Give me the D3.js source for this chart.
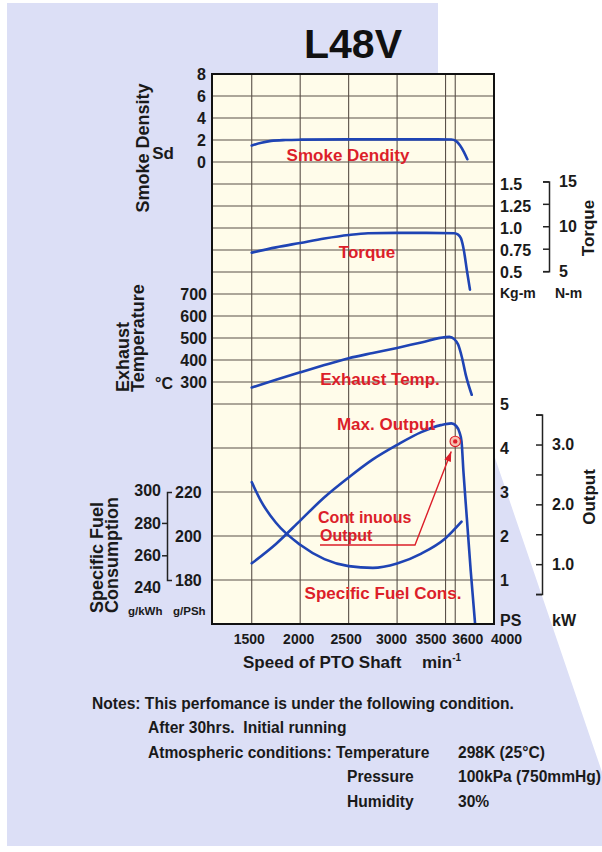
<!DOCTYPE html>
<html><head><meta charset="utf-8">
<script src="https://cdn.jsdelivr.net/npm/d3@7/dist/d3.min.js"></script>
<style>
html,body{margin:0;padding:0;background:#fff;}
svg{display:block;font-family:"Liberation Sans",Arial,Helvetica,sans-serif;font-weight:bold;}
text{white-space:pre;}
</style>
</head><body>
<svg id="c" width="602" height="852"></svg>
<script>
// ---------------- data ----------------
const title = "L48V";
const rpmTicks = [1500, 2000, 2500, 3000, 3500, 3600, 4000];
const rpmGrid = [1500, 2000, 2500, 3000, 3500, 3600];
const smokeTicks = [8, 6, 4, 2, 0];
const torqueKgmTicks = [1.5, 1.25, 1.0, 0.75, 0.5];
const torqueKgmLabels = ["1.5", "1.25", "1.0", "0.75", "0.5"];
const torqueNmTicks = [15, 10, 5];
const torqueNmMinor = [15, 12.5, 10, 7.5, 5];
const exhaustTicks = [700, 600, 500, 400, 300];
const psTicks = [5, 4, 3, 2, 1];
const kwTicks = [3.0, 2.0, 1.0];
const kwMinor = [3.5, 3.0, 2.5, 2.0, 1.5, 1.0, 0.5];
const sfcKwhTicks = [300, 280, 260, 240];
const sfcKwhMinor = [280, 260];
const sfcPshTicks = [220, 200, 180];

// Smoke density (Sd)
const smokeRpm = [1500, 1600, 1700, 1850, 2000, 2500, 3000, 3300, 3560, 3610, 3650, 3690, 3725];
const smokeVal = [1.5, 1.75, 1.92, 2.0, 2.03, 2.06, 2.06, 2.06, 2.05, 1.9, 1.5, 0.9, 0.25];
// Torque (kg-m)
const torqueRpm = [1500, 1750, 2000, 2250, 2500, 2700, 3000, 3300, 3590, 3630, 3660, 3690, 3720, 3752];
const torqueVal = [0.72, 0.78, 0.83, 0.88, 0.92, 0.94, 0.945, 0.945, 0.94, 0.925, 0.88, 0.74, 0.52, 0.3];
// Exhaust temperature (°C)
const exhaustRpm = [1500, 1750, 2000, 2250, 2500, 2750, 3000, 3250, 3500, 3540, 3590, 3630, 3670, 3710, 3770];
const exhaustVal = [275, 310, 344, 377, 408, 432, 455, 480, 504, 505, 495, 470, 410, 330, 242];
// Max output (PS)
const outputRpm = [1500, 1750, 2000, 2250, 2500, 2750, 3000, 3250, 3450, 3560, 3610, 3645, 3665, 3685, 3720, 3760, 3805];
const outputVal = [1.38, 1.82, 2.35, 2.88, 3.33, 3.74, 4.07, 4.36, 4.52, 4.56, 4.5, 4.35, 4.15, 3.45, 2.4, 1.2, 0];
// Specific fuel consumption (g/PSh)
const sfcRpm = [1500, 1600, 1750, 2000, 2250, 2500, 2750, 3000, 3250, 3500, 3665];
const sfcVal = [224.5, 215.5, 206, 196, 189.5, 186.3, 185.5, 187.5, 192, 199, 206.5];
// Continuous output point
const contRpm = 3600;
const contPS = 4.15;

const notes = [
  "Notes: This perfomance is under the following condition.",
  "After 30hrs.  Initial running",
  "Atmospheric conditions: Temperature",
  "Pressure",
  "Humidity"
];
const noteValues = ["298K (25°C)", "100kPa (750mmHg)", "30%"];

// ---------------- layout ----------------
const KW_TO_PS = 1.35962, NM_PER_KGM = 9.80665, PSH_PER_KWH = 0.735499;
const L = 212, R = 494, T = 74, rowH = 22, nRows = 25, B = T + rowH * nRows;
const rowY = k => T + k * rowH;
const BLUE = "#1f44b4", RED = "#dc1f2a", GRID = "#5a5048";

const x = d3.scaleLinear().domain([1090, 4000]).range([L, R]);
const smokeY = d3.scaleLinear().domain([0, 8]).range([rowY(4), rowY(0)]);
const torqueY = d3.scaleLinear().domain([0.5, 1.5]).range([rowY(9), rowY(5)]);
const exhY = d3.scaleLinear().domain([300, 700]).range([rowY(14), rowY(10)]);
const psY = d3.scaleLinear().domain([0, 5]).range([rowY(25), rowY(15)]);
const sfcY = d3.scaleLinear().domain([160, 260]).range([rowY(25), rowY(15)]);
const nmY = d3.scaleLinear().domain([5, 15]).range([torqueY(5 / NM_PER_KGM), torqueY(15 / NM_PER_KGM)]);
const kwY = d3.scaleLinear().domain([0.5, 3.5]).range([psY(0.5 * KW_TO_PS), psY(3.5 * KW_TO_PS)]);
const kwLabY = d3.scaleLinear().domain([0, 5 / KW_TO_PS]).range([psY(0), psY(5)]);
const kwhY = d3.scaleLinear().domain([240, 300]).range([sfcY(240 * PSH_PER_KWH), sfcY(300 * PSH_PER_KWH)]);
const pshBr = d3.scaleLinear().domain([180, 220]).range([sfcY(180), sfcY(220)]);

const svg = d3.select("#c");

// background
svg.append("rect").attr("width", 602).attr("height", 852).attr("fill", "#fff");
svg.append("path")
  .attr("d", `M7,3 H438 V${T} H${R} V455 L602,772 V846 H7 Z`)
  .attr("fill", "#dcdff6");

// title
svg.append("text").attr("x", 353).attr("y", 58).attr("text-anchor", "middle")
  .attr("font-size", 41).attr("fill", "#111").text(title);

// plot area
svg.append("rect").attr("x", L).attr("y", T).attr("width", R - L).attr("height", B - T).attr("fill", "#fffcea");

const gridRows = d3.range(1, 16).concat(d3.range(17, nRows, 2));
svg.append("g").selectAll("line").data(gridRows).join("line")
  .attr("x1", L).attr("x2", R).attr("y1", d => rowY(d)).attr("y2", d => rowY(d))
  .attr("stroke", GRID).attr("stroke-width", 1.1);
svg.append("g").selectAll("line").data(rpmGrid).join("line")
  .attr("x1", d => x(d)).attr("x2", d => x(d)).attr("y1", T).attr("y2", B)
  .attr("stroke", GRID).attr("stroke-width", 1.1);

// curves
svg.append("clipPath").attr("id", "clip").append("rect")
  .attr("x", L).attr("y", T).attr("width", R - L).attr("height", B - T);
const curves = svg.append("g").attr("clip-path", "url(#clip)");
function drawCurve(rpms, vals, yScale) {
  const pts = rpms.map((r, i) => [x(r), yScale(vals[i])]);
  curves.append("path").attr("d", d3.line().curve(d3.curveMonotoneX)(pts))
    .attr("fill", "none").attr("stroke", BLUE).attr("stroke-width", 2.6)
    .attr("stroke-linecap", "round").attr("stroke-linejoin", "round");
}
drawCurve(smokeRpm, smokeVal, smokeY);
drawCurve(torqueRpm, torqueVal, torqueY);
drawCurve(exhaustRpm, exhaustVal, exhY);
drawCurve(outputRpm, outputVal, psY);
drawCurve(sfcRpm, sfcVal, sfcY);

// border
svg.append("rect").attr("x", L).attr("y", T).attr("width", R - L).attr("height", B - T)
  .attr("fill", "none").attr("stroke", "#111").attr("stroke-width", 2);

// red curve labels
function red(t, xx, yy, anchor, fs) {
  return svg.append("text").attr("x", xx).attr("y", yy).attr("text-anchor", anchor || "middle")
    .attr("font-size", fs || 17).attr("fill", RED).text(t);
}
red("Smoke Dendity", 348, smokeY(0) - 1);
red("Torque", 367, torqueY(0.75) + 8);
red("Exhaust Temp.", 380, exhY(300) + 3);
red("Max. Output", 386, psY(4.5) + 4);
red("Cont inuous", 318, 523, "start", 16);
red("Output", 320, 541, "start", 16);
red("Specific Fuel Cons.", 383, psY(0.6) + 1);

// continuous output marker + arrow
const cx = x(contRpm), cy = psY(contPS);
svg.append("circle").attr("cx", cx).attr("cy", cy).attr("r", 5.2)
  .attr("fill", "#f6c2b0").attr("stroke", RED).attr("stroke-width", 1.1);
svg.append("circle").attr("cx", cx).attr("cy", cy).attr("r", 2.2).attr("fill", RED);
const ux = 320, uy = 545, ex = 415;
const tipX = cx - 4, tipY = cy + 10;
svg.append("path").attr("d", `M${ux},${uy} H${ex} L${tipX},${tipY}`)
  .attr("fill", "none").attr("stroke", RED).attr("stroke-width", 1.4);
{
  const dx = tipX - ex, dy = tipY - uy, len = Math.hypot(dx, dy);
  const ux2 = dx / len, uy2 = dy / len, hl = 10, hw = 3.5;
  const bx = tipX - ux2 * hl, by = tipY - uy2 * hl;
  svg.append("path").attr("d",
    `M${tipX},${tipY} L${bx - uy2 * hw},${by + ux2 * hw} L${bx + uy2 * hw},${by - ux2 * hw} Z`)
    .attr("fill", RED);
}

// ---------------- axes ----------------
function styleAxis(g, fs) {
  g.selectAll("text").attr("font-size", fs).attr("font-family", "Liberation Sans, Arial, sans-serif")
    .attr("font-weight", "bold").attr("fill", "#1a1a1a");
  g.selectAll("path,line").attr("stroke", "#222").attr("stroke-width", 1.5);
  return g;
}
function labelAxis(axis, tx, fs) {
  const g = svg.append("g").attr("transform", `translate(${tx},0)`).call(axis);
  g.select(".domain").remove();
  return styleAxis(g, fs);
}
// left labels
labelAxis(d3.axisLeft(smokeY).tickValues(smokeTicks).tickSize(0).tickPadding(0).tickFormat(d3.format("d")), 206, 16);
labelAxis(d3.axisLeft(exhY).tickValues(exhaustTicks).tickSize(0).tickPadding(0).tickFormat(d3.format("d")), 207, 16);
labelAxis(d3.axisLeft(kwhY).tickValues(sfcKwhTicks).tickSize(0).tickPadding(0).tickFormat(d3.format("d")), 161, 16);
labelAxis(d3.axisRight(pshBr).tickValues(sfcPshTicks).tickSize(0).tickPadding(0).tickFormat(d3.format("d")), 175, 16);
// SFC bracket
styleAxis(svg.append("g").attr("transform", "translate(167,0)")
  .call(d3.axisRight(pshBr).tickValues([]).tickSizeOuter(5)), 16);
{
  const g = svg.append("g").attr("transform", "translate(167,0)")
    .call(d3.axisLeft(kwhY).tickValues(sfcKwhMinor).tickSize(5).tickFormat(""));
  g.select(".domain").remove(); styleAxis(g, 16);
}
// right labels
labelAxis(d3.axisRight(torqueY).tickValues(torqueKgmTicks).tickSize(0).tickPadding(0)
  .tickFormat((d, i) => torqueKgmLabels[i]), 500, 16);
labelAxis(d3.axisRight(nmY).tickValues(torqueNmTicks).tickSize(0).tickPadding(0).tickFormat(d3.format("d")), 559, 16);
styleAxis(svg.append("g").attr("transform", "translate(549,0)")
  .call(d3.axisLeft(nmY).tickValues(torqueNmMinor).tickSize(6).tickSizeOuter(6).tickFormat("")), 16);
labelAxis(d3.axisRight(psY).tickValues(psTicks).tickSize(0).tickPadding(0).tickFormat(d3.format("d")), 500, 16);
labelAxis(d3.axisRight(kwLabY).tickValues(kwTicks).tickSize(0).tickPadding(0).tickFormat(d3.format(".1f")), 552, 16);
styleAxis(svg.append("g").attr("transform", "translate(542,0)")
  .call(d3.axisLeft(kwY).tickValues(kwMinor).tickSize(6).tickSizeOuter(6).tickFormat("")), 16);

// bottom axis
{
  const nudge = [-3, -2, -3, -6, -15, 12, 12];
  const g = svg.append("g").attr("transform", `translate(0,${B})`)
    .call(d3.axisBottom(x).tickValues(rpmTicks).tickSize(0).tickPadding(10).tickFormat(d3.format("d")));
  g.select(".domain").remove();
  styleAxis(g, 14);
  g.selectAll(".tick text").attr("dx", (d, i) => nudge[i]);
}

// ---------------- axis titles & units ----------------
function t(s, xx, yy, fs, anchor, rot) {
  const el = svg.append("text").attr("font-size", fs).attr("fill", "#1a1a1a")
    .attr("text-anchor", anchor || "start").text(s);
  if (rot) el.attr("transform", `translate(${xx},${yy}) rotate(-90)`);
  else el.attr("x", xx).attr("y", yy);
  return el;
}
t("Smoke Density", 149, 148, 18, "middle", true);
t("Sd", 174, 159, 17, "end");
t("Exhaust", 129, 392, 18, "start", true);
t("Temperature", 144, 392, 18, "start", true);
t("°C", 173, 389, 16, "end");
t("Specific Fuel", 103, 613, 18, "start", true);
t("Consumption", 118, 613, 18, "start", true);
t("g/kWh", 128, 615, 11.5, "start");
t("g/PSh", 173, 615, 11.5, "start");
t("Torque", 594, 228, 17, "middle", true);
t("Kg-m", 500, 298, 14, "start");
t("N-m", 555, 298, 14, "start");
t("Output", 595, 497, 17, "middle", true);
t("PS", 500, 626, 16, "start");
t("kW", 552, 626, 16, "start");
t("Speed of PTO Shaft", 243, 668, 17, "start");
{
  const m = t("min", 422, 668, 17, "start");
  m.append("tspan").attr("dy", -7).attr("font-size", 10).text("-1");
}

// notes
const noteX = [92, 148, 148, 347, 347];
const noteY = [709, 733, 758, 782, 807];
notes.forEach((s, i) => t(s, noteX[i], noteY[i], 15.6, "start"));
noteValues.forEach((s, i) => t(s, 458, noteY[i + 2], 15.6, "start"));
</script>
</body></html>
